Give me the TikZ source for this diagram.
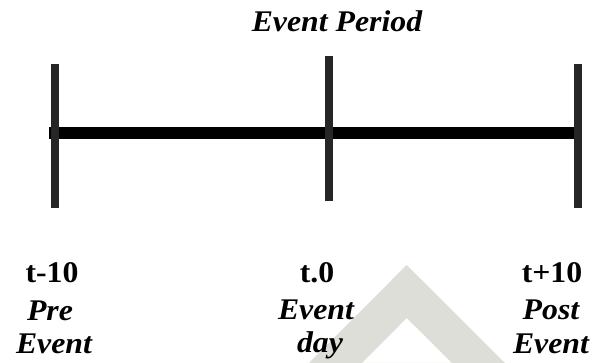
\documentclass[tikz,border=0pt]{standalone}
\usepackage{fontspec}
\usepackage{graphicx}
\setmainfont{Liberation Serif}
\definecolor{tickcol}{RGB}{38,38,38}
\definecolor{wmark}{RGB}{222,222,217}
\newcommand{\widetext}[1]{\scalebox{1.06}[1]{#1}}
\begin{document}
\begin{tikzpicture}[x=1pt,y=-1pt,
  tick/.style={line width=8pt,draw=tickcol},
  barline/.style={line width=12pt,draw=black},
  lbl/.style={anchor=base,inner sep=0pt,font=\fontsize{30}{34}\selectfont\bfseries\itshape},
  tlbl/.style={anchor=base,inner sep=0pt,font=\fontsize{30}{34}\selectfont\bfseries}]
\useasboundingbox (0,0) rectangle (592,363);
% watermark
\fill[wmark,even odd rule] (309,363) -- (406.7,265) -- (505,363) -- cycle
  (362,363) -- (406.7,318) -- (452,363) -- cycle;
% timeline
\coordinate (barL) at (49,133);
\coordinate (barR) at (574,133);
\draw[barline] (barL) -- (barR);
\coordinate (t1a) at (54.7,64.3); \coordinate (t1b) at (54.7,208.3);
\coordinate (t2a) at (328.5,56); \coordinate (t2b) at (328.5,200.7);
\coordinate (t3a) at (577.5,64.3); \coordinate (t3b) at (577.5,208.3);
\draw[tick] (t1a) -- (t1b);
\draw[tick] (t2a) -- (t2b);
\draw[tick] (t3a) -- (t3b);
% labels
\node[lbl] (title) at (337,32) {\widetext{Event Period}};
\node[tlbl] (tm10) at (52,283) {\widetext{t-10}};
\node[lbl] (pre) at (50,321) {\widetext{Pre}};
\node[lbl] (preev) at (54,354) {\widetext{Event}};
\node[tlbl] (t0) at (317,283) {\widetext{t.0}};
\node[lbl] (ev) at (316,320) {\widetext{Event}};
\node[lbl] (day) at (320,353) {\widetext{day}};
\node[tlbl] (tp10) at (552,283) {\widetext{t+10}};
\node[lbl] (post) at (551,320) {\widetext{Post}};
\node[lbl] (postev) at (551,354) {\widetext{Event}};
\end{tikzpicture}
\end{document}
